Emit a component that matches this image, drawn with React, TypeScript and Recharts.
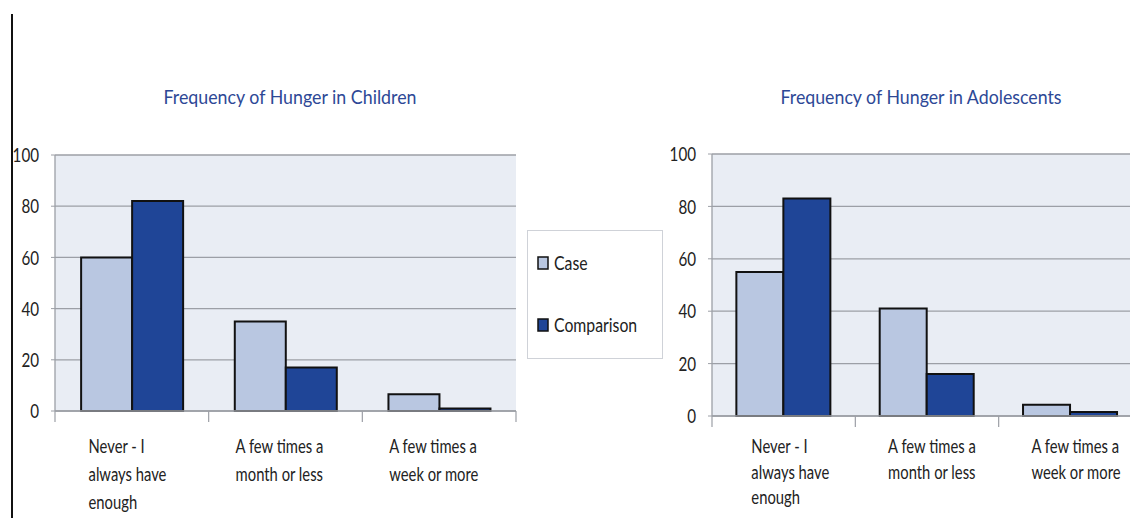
import React from "react";
import { Bar, BarChart, CartesianGrid, XAxis, YAxis } from "recharts";

const categories = [
  "Never - I\nalways have\nenough",
  "A few times a\nmonth or less",
  "A few times a\nweek or more",
];
const childrenCase = [60, 35, 6.5];
const childrenComparison = [82, 17, 1];
const adolescentCase = [55, 41, 4.3];
const adolescentComparison = [83, 16, 1.5];
const yTicks = [0, 20, 40, 60, 80, 100];
const seriesNames = ["Case", "Comparison"];
const titles = ["Frequency of Hunger in Children", "Frequency of Hunger in Adolescents"];

const CASE_COLOR = "#b9c7e1";
const COMP_COLOR = "#1f4597";
const GRID = "#9c9fa6";
const FONT = "Lato, 'Open Sans', sans-serif";

const buildRows = (a: number[], b: number[]) =>
  categories.map((name, i) => ({ name, caseValue: a[i], compValue: b[i] }));

const YTick = ({ x, y, payload }: any) => (
  <g transform={`translate(${x},${y}) scale(0.76,1)`}>
    <text x={0} y={0} dy="0.36em" textAnchor="end" fontSize={20} fill="#222" fontFamily={FONT}>
      {payload.value}
    </text>
  </g>
);

const makeXTick = (bandHalf: number, shift: number, firstLine: number, lineGap: number) => (props: any) => {
  const { x, y, payload, index, visibleTicksCount } = props;
  const half = payload.offset ? payload.offset : bandHalf;
  const lines = String(payload.value).split("\n");
  const longest = Math.max(...lines.map((l) => l.length));
  const left = x - (longest * 6.6) / 2 - shift;
  return (
    <g>
      <line x1={x - half} x2={x - half} y1={y} y2={y + 11} stroke={GRID} strokeWidth={1.2} />
      {index === visibleTicksCount - 1 && (
        <line x1={x + half} x2={x + half} y1={y} y2={y + 11} stroke={GRID} strokeWidth={1.2} />
      )}
      {lines.map((line, i) => (
        <g key={i} transform={`translate(${left},${y + firstLine + i * lineGap}) scale(0.74,1)`}>
          <text x={0} y={0} fontSize={20} fill="#222" fontFamily={FONT}>
            {line}
          </text>
        </g>
      ))}
    </g>
  );
};

interface HungerChartProps {
  rows: { name: string; caseValue: number; compValue: number }[];
  width: number;
  height: number;
  margin: { top: number; right: number; bottom: number; left: number };
  xHeight: number;
  shift: number;
  firstLine: number;
  lineGap: number;
}

function HungerChart({ rows, width, height, margin, xHeight, shift, firstLine, lineGap }: HungerChartProps) {
  const plotWidth = width - margin.left - margin.right - 45;
  const bandHalf = plotWidth / categories.length / 2;
  return (
    <BarChart
      width={width}
      height={height}
      data={rows}
      margin={margin}
      barGap={0}
      barCategoryGap="17%"
    >
      <CartesianGrid vertical={false} stroke={GRID} strokeWidth={1.3} fill="#e9edf4" />
      <XAxis
        dataKey="name"
        interval={0}
        height={xHeight}
        tickSize={0}
        tickMargin={0}
        tickLine={false}
        axisLine={{ stroke: GRID, strokeWidth: 1.5 }}
        tick={makeXTick(bandHalf, shift, firstLine, lineGap)}
      />
      <YAxis
        type="number"
        domain={[0, 100]}
        ticks={yTicks}
        width={45}
        tickSize={4}
        tickMargin={12}
        axisLine={{ stroke: GRID, strokeWidth: 1.3 }}
        tickLine={{ stroke: GRID }}
        tick={<YTick />}
      />
      <YAxis
        yAxisId="r"
        orientation="right"
        domain={[0, 100]}
        width={0}
        tick={false}
        tickLine={false}
        axisLine={{ stroke: GRID, strokeWidth: 1.3 }}
      />
      <Bar dataKey="caseValue" name={seriesNames[0]} fill={CASE_COLOR} stroke="#111" strokeWidth={2} isAnimationActive={false} />
      <Bar dataKey="compValue" name={seriesNames[1]} fill={COMP_COLOR} stroke="#111" strokeWidth={2} isAnimationActive={false} />
    </BarChart>
  );
}

export default function App() {
  return (
    <div
      style={{
        position: "absolute",
        left: 0,
        top: 0,
        width: 1130,
        height: 518,
        overflow: "hidden",
        background: "#fff",
      }}
    >
      <div style={{ position: "absolute", left: 11, top: 14, width: 2, height: 504, background: "#111" }} />

      <svg width={1130} height={130} style={{ position: "absolute", left: 0, top: 0 }}>
        <text x={290} y={104} textAnchor="middle" fontSize={20} fill="#2d4896" fontFamily={FONT} textLength={253} lengthAdjust="spacingAndGlyphs">
          {titles[0]}
        </text>
        <text x={921} y={104} textAnchor="middle" fontSize={20} fill="#2d4896" fontFamily={FONT} textLength={281} lengthAdjust="spacingAndGlyphs">
          {titles[1]}
        </text>
      </svg>

      <div style={{ position: "absolute", left: 0, top: 0 }}>
        <HungerChart
          rows={buildRows(childrenCase, childrenComparison)}
          width={530}
          height={518}
          margin={{ top: 155, right: 14, bottom: 7, left: 10 }}
          xHeight={100}
          shift={7}
          firstLine={42}
          lineGap={28}
        />
      </div>

      <div style={{ position: "absolute", left: 660, top: 0 }}>
        <HungerChart
          rows={buildRows(adolescentCase, adolescentComparison)}
          width={482}
          height={518}
          margin={{ top: 154, right: 0, bottom: 7, left: 7 }}
          xHeight={95}
          shift={-4}
          firstLine={37}
          lineGap={25.5}
        />
      </div>

      <div
        style={{
          position: "absolute",
          left: 527,
          top: 230,
          width: 134,
          height: 127,
          border: "1px solid #cfd2d8",
          background: "#fff",
        }}
      >
        <svg width={134} height={127}>
          {seriesNames.map((name, i) => (
            <g key={name} transform={`translate(10,${26 + i * 62})`}>
              <rect x={0} y={0} width={10} height={12} fill={i === 0 ? CASE_COLOR : COMP_COLOR} stroke="#111" strokeWidth={1.5} />
              <g transform="translate(16,13) scale(0.79,1)">
                <text x={0} y={0} fontSize={20} fill="#222" fontFamily={FONT}>
                  {name}
                </text>
              </g>
            </g>
          ))}
        </svg>
      </div>
    </div>
  );
}
